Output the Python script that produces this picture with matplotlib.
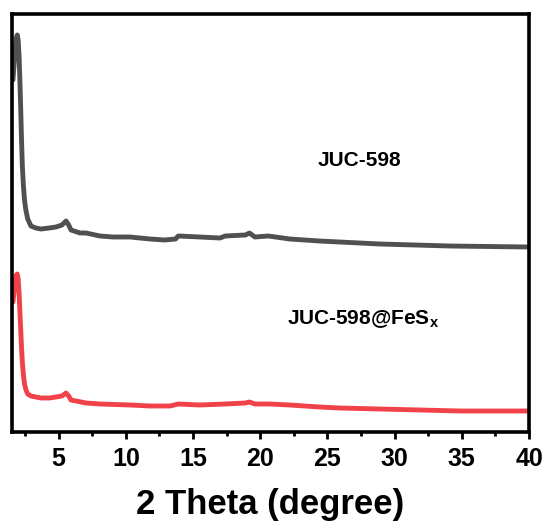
import matplotlib
matplotlib.use("Agg")
import matplotlib.pyplot as plt
from matplotlib.ticker import MultipleLocator

plt.rcParams['font.family'] = ['Liberation Sans', 'DejaVu Sans']
plt.rcParams['font.weight'] = 'bold'
plt.rcParams['mathtext.fontset'] = 'custom'
plt.rcParams['mathtext.bf'] = 'Liberation Sans:bold'
plt.rcParams['mathtext.rm'] = 'Liberation Sans:bold'

# 2 Theta (degree)
juc_x = [1.60, 1.70, 1.78, 1.85, 1.92, 1.99, 2.06, 2.12, 2.18, 2.24, 2.30, 2.38, 2.46,
         2.56, 2.70, 2.94, 3.30, 3.69, 4.30, 4.80, 5.25, 5.55, 5.75, 5.92,
         6.59, 7.04, 8.08, 9.04, 10.3, 11.8, 12.9, 13.7, 13.9, 15.5, 17.0, 17.4, 18.9,
         19.2, 19.6, 20.6, 22.2, 24.4, 28.9, 34.1, 39.9]
juc_y = [352, 370, 386, 394, 397, 392, 375, 350, 322, 292, 266, 246, 232,
         222, 213, 206, 204, 203, 204, 205, 207, 211, 207, 202,
         199, 199, 196, 195, 195, 193, 192, 193, 196, 195, 194, 196, 197,
         199, 195, 196, 193, 191, 188, 186, 185]

fes_x = [1.60, 1.70, 1.78, 1.85, 1.92, 1.99, 2.06, 2.12, 2.18, 2.24, 2.30, 2.38, 2.46,
         2.57, 2.70, 2.94, 3.30, 3.69, 4.30, 4.80, 5.25, 5.55, 5.75, 5.92, 7.04,
         8.08, 10.3, 11.8, 13.3, 13.9, 15.5, 17.4, 18.9, 19.2, 19.6, 20.7, 22.2, 24.4,
         25.9, 28.9, 31.9, 34.9, 39.9]
fes_y = [130, 142, 152, 157, 158, 153, 138, 120, 102, 84, 70, 57, 48,
         42, 38, 36, 35, 34, 34, 35, 36, 39, 36, 32, 29,
         28, 27, 26, 26, 28, 27, 28, 29, 30, 28, 28, 27, 25,
         24, 23, 22, 21, 21]

labels = ['JUC-598', 'JUC-598@FeS$_{\\mathbf{x}}$']
xticks = [5, 10, 15, 20, 25, 30, 35, 40]

fig = plt.figure(figsize=(5.48, 5.28), dpi=100)
ax = fig.add_axes([12/548, 1-432/528, 517/548, 418/528])

ax.plot(juc_x, juc_y, color='#505050', lw=3.5, solid_joinstyle='round', solid_capstyle='round')
ax.plot(fes_x, fes_y, color='#f04248', lw=3.5, solid_joinstyle='round', solid_capstyle='round')

ax.set_xlim(1.53, 40)
ax.set_ylim(0, 418)
ax.set_xticks(xticks)
ax.set_xticklabels([str(t) for t in xticks])
ax.xaxis.set_minor_locator(MultipleLocator(2.5))
ax.set_yticks([])

for s in ax.spines.values():
    s.set_linewidth(2.6)
ax.tick_params(axis='x', which='major', direction='out', length=5, width=2, labelsize=18, pad=6)
ax.tick_params(axis='x', which='minor', direction='out', length=3, width=2)
for lab in ax.get_xticklabels():
    lab.set_fontweight('bold')

ax.set_xlabel('2 Theta (degree)', fontsize=25, fontweight='bold', labelpad=12)

ax.text(27.4, 266, labels[0], ha='center', va='baseline', fontsize=15, fontweight='bold')
ax.text(22.0, 108, labels[1], ha='left', va='baseline', fontsize=15, fontweight='bold')

fig.savefig('out.png', dpi=100)
